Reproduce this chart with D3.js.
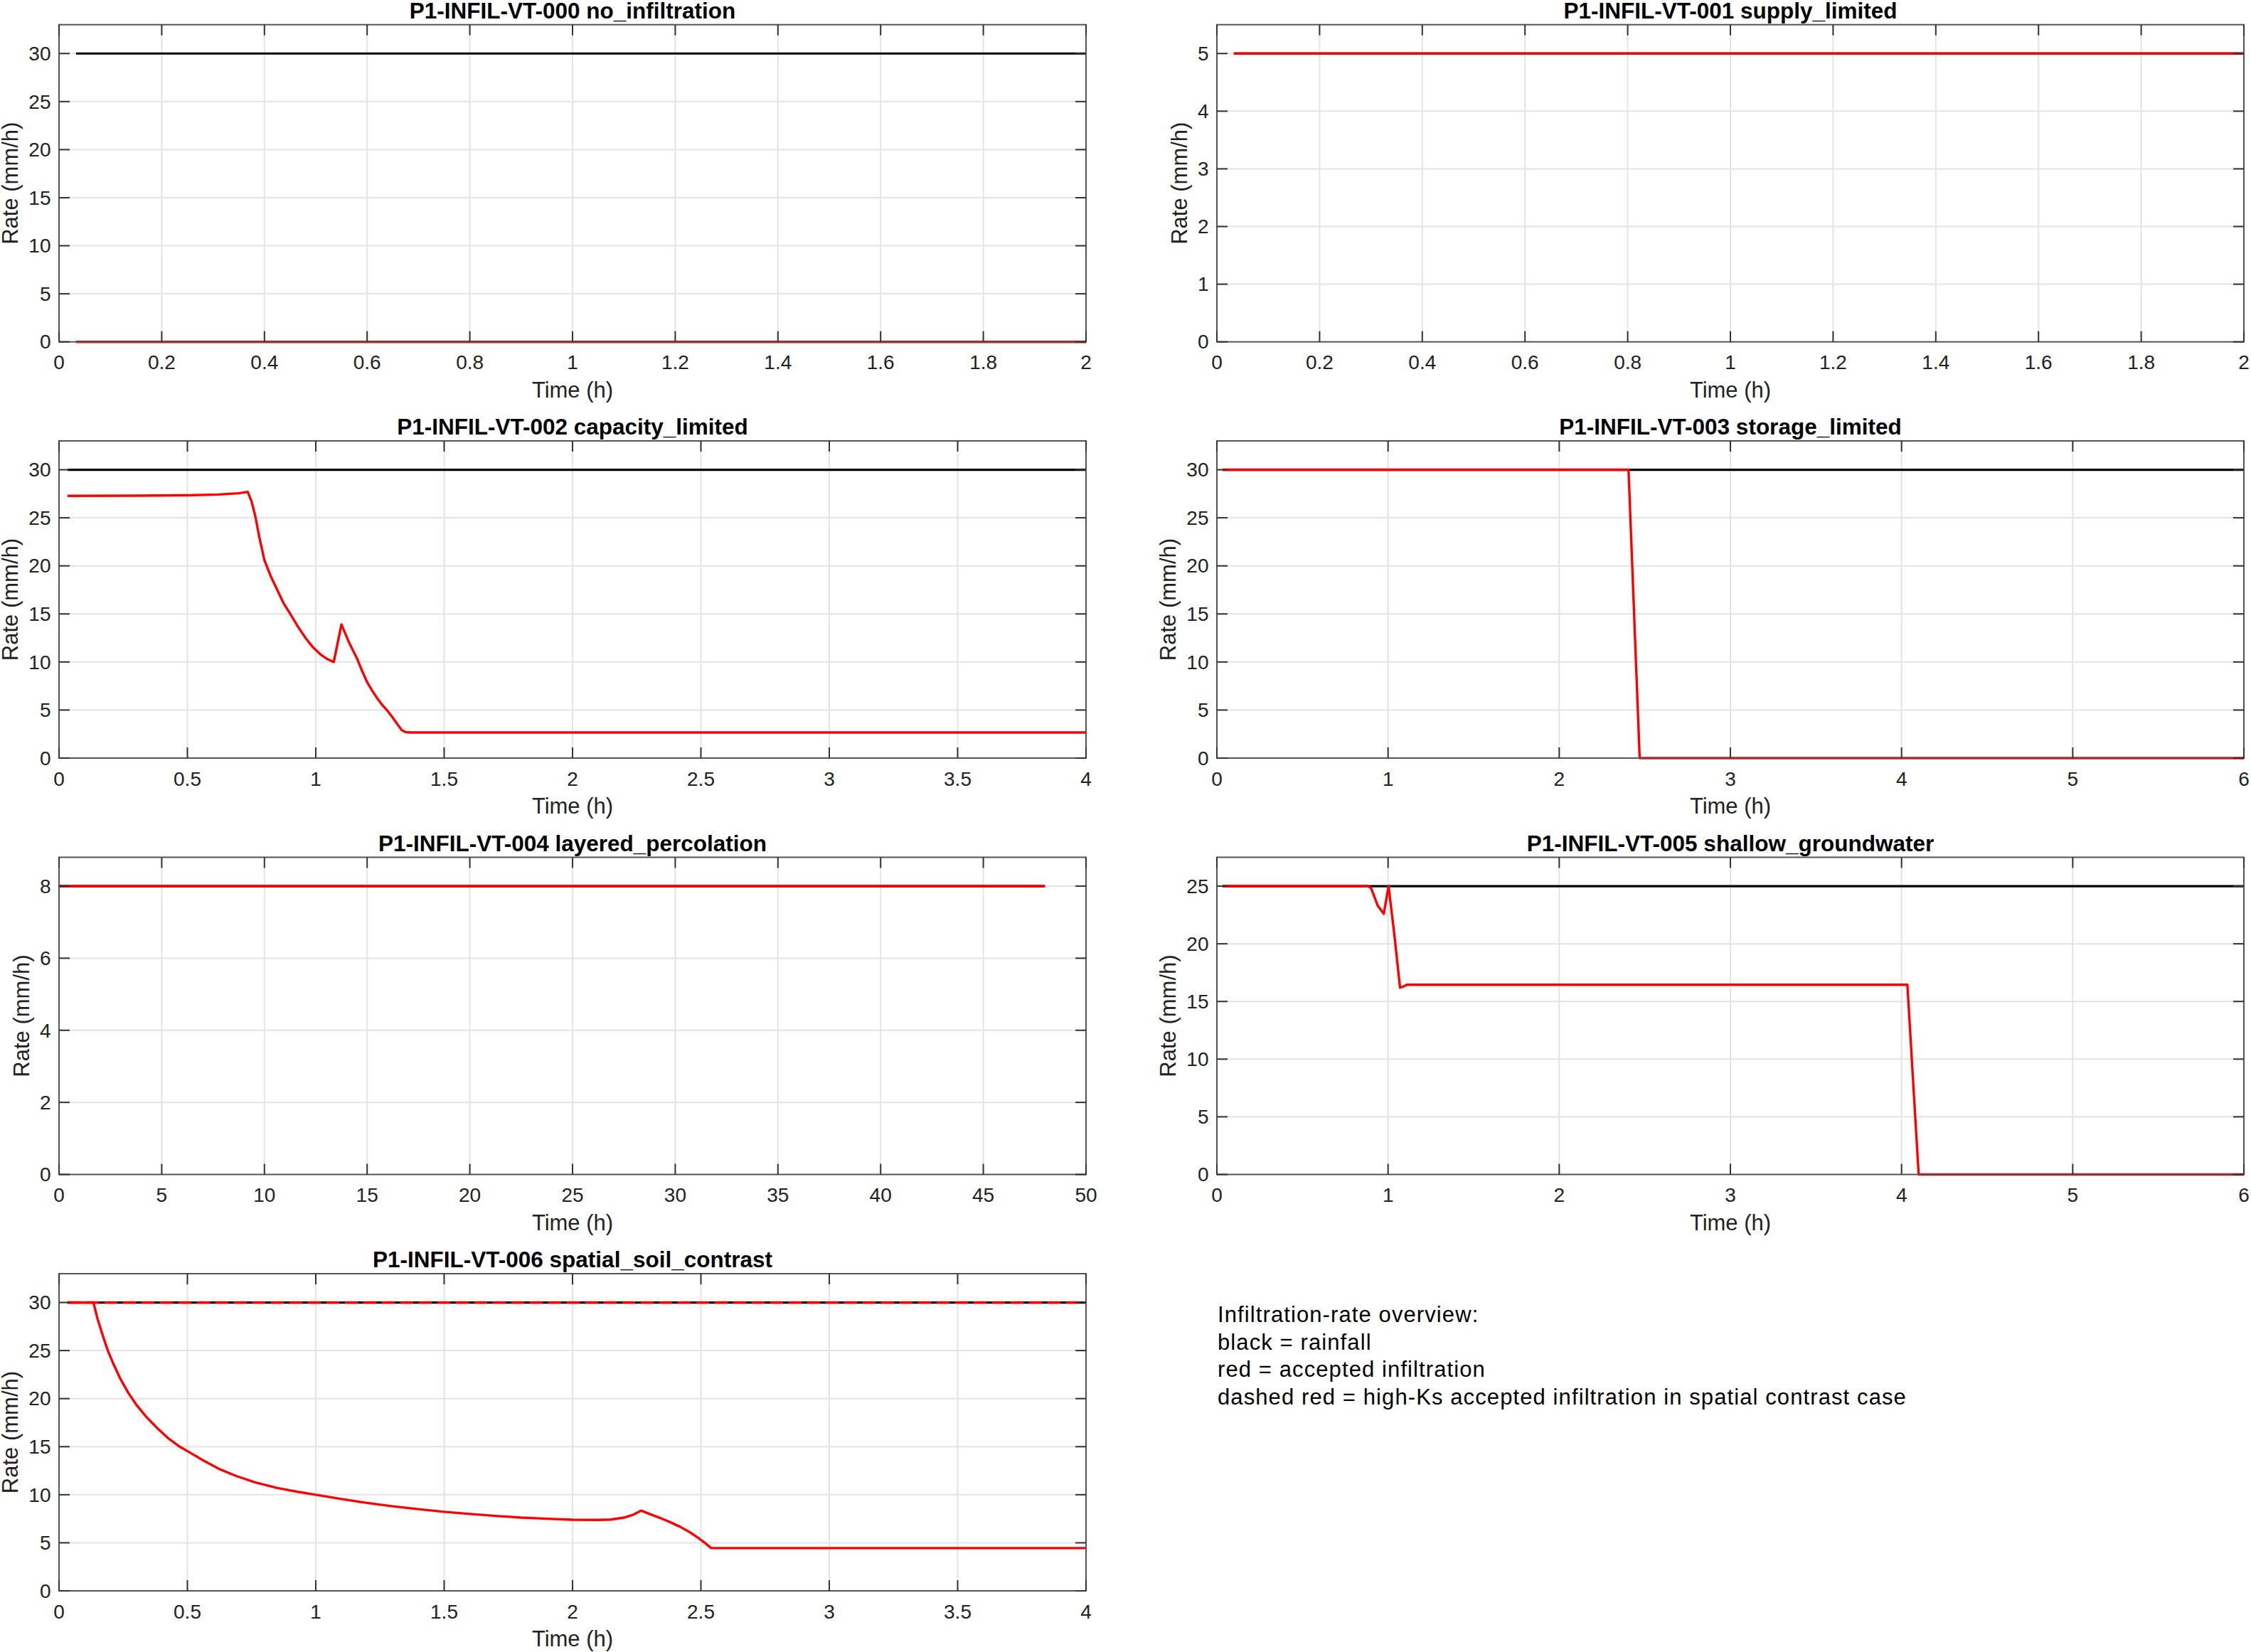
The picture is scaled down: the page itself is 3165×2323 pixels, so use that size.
<!DOCTYPE html>
<html>
<head>
<meta charset="utf-8">
<script src="https://cdn.jsdelivr.net/npm/d3@7.9.0/dist/d3.min.js"></script>
<style>
  html, body { margin: 0; padding: 0; background: #fff; }
  svg { display: block; font-family: "Liberation Sans", Arial, Helvetica, sans-serif; }
</style>
</head>
<body>
<svg id="fig" width="3165" height="2323"></svg>
<script>
// panel titles, in figure order (row by row)
const caseTitles = [
  "P1-INFIL-VT-000 no_infiltration",
  "P1-INFIL-VT-001 supply_limited",
  "P1-INFIL-VT-002 capacity_limited",
  "P1-INFIL-VT-003 storage_limited",
  "P1-INFIL-VT-004 layered_percolation",
  "P1-INFIL-VT-005 shallow_groundwater",
  "P1-INFIL-VT-006 spatial_soil_contrast"
];

// axis limits
const timeMax = [2, 2, 4, 6, 50, 6, 4];
const rateMax = [33, 5.5, 33, 33, 8.8, 27.5, 33];

// tick values
const ticks2h = [0, 0.2, 0.4, 0.6, 0.8, 1, 1.2, 1.4, 1.6, 1.8, 2];
const ticks4h = [0, 0.5, 1, 1.5, 2, 2.5, 3, 3.5, 4];
const ticks6h = [0, 1, 2, 3, 4, 5, 6];
const ticks50h = [0, 5, 10, 15, 20, 25, 30, 35, 40, 45, 50];
const rateTicks30 = [0, 5, 10, 15, 20, 25, 30];
const rateTicks25 = [0, 5, 10, 15, 20, 25];
const rateTicks5 = [0, 1, 2, 3, 4, 5];
const rateTicks8 = [0, 2, 4, 6, 8];

// rainfall (black)
const rainT000 = [0.033, 2],  rainR000 = [30, 30];
const rainT001 = [0.033, 2],  rainR001 = [5, 5];
const rainT002 = [0.033, 4],  rainR002 = [30, 30];
const rainT003 = [0.033, 6],  rainR003 = [30, 30];
const rainT004 = [0, 48],     rainR004 = [8, 8];
const rainT005 = [0.033, 6],  rainR005 = [25, 25];
const rainT006 = [0.033, 4],  rainR006 = [30, 30];

// accepted infiltration (red)
const infT000 = [0.033, 2], infR000 = [0, 0];
const infT001 = [0.033, 2], infR001 = [5, 5];
const infT002 = [0.033, 0.3, 0.5, 0.62, 0.7, 0.735, 0.75, 0.765, 0.78, 0.8, 0.825, 0.85, 0.875, 0.905, 0.93,
                 0.96, 0.99, 1.02, 1.045, 1.07, 1.1, 1.13, 1.16, 1.18, 1.2, 1.22, 1.24, 1.26, 1.28, 1.3, 1.32,
                 1.335, 1.35, 1.37, 4];
const infR002 = [27.28, 27.3, 27.34, 27.42, 27.55, 27.7, 26.7, 25.1, 23.0, 20.6, 18.9, 17.5, 16.1, 14.8, 13.7,
                 12.5, 11.5, 10.75, 10.3, 10.0, 13.9, 12.0, 10.4, 9.1, 7.9, 7.0, 6.2, 5.5, 4.9, 4.2, 3.45,
                 2.9, 2.7, 2.66, 2.66];
const infT003 = [0.033, 2.405, 2.47, 6], infR003 = [30, 30, 0, 0];
const infT004 = [0, 48], infR004 = [8, 8];
const infT005 = [0.033, 0.88, 0.9, 0.94, 0.975, 1.003, 1.036, 1.07, 1.09, 1.11, 4.034, 4.1, 6];
const infR005 = [25, 25, 24.85, 23.3, 22.6, 25, 20.9, 16.2, 16.3, 16.45, 16.45, 0, 0];
const infT006 = [0.033, 0.134, 0.15, 0.17, 0.19, 0.212, 0.24, 0.27, 0.3, 0.34, 0.38, 0.424, 0.47, 0.509, 0.56,
                 0.622, 0.69, 0.763, 0.85, 0.93, 1.0, 1.1, 1.2, 1.3, 1.4, 1.5, 1.6, 1.7, 1.8, 1.9, 2.0, 2.1,
                 2.15, 2.2, 2.235, 2.267, 2.3, 2.34, 2.38, 2.42, 2.46, 2.49, 2.515, 2.54, 4];
const infR006 = [30, 30, 28.3, 26.6, 25.0, 23.6, 22.0, 20.6, 19.4, 18.1, 17.0, 15.9, 15.0, 14.4, 13.6,
                 12.7, 11.95, 11.3, 10.7, 10.3, 10.0, 9.55, 9.15, 8.8, 8.5, 8.22, 8.0, 7.8, 7.62, 7.5, 7.4, 7.38,
                 7.42, 7.62, 7.9, 8.35, 8.0, 7.6, 7.15, 6.65, 6.05, 5.5, 5.0, 4.45, 4.45];

// high-Ks accepted infiltration (dashed red, spatial contrast case only)
const highKsT006 = [0.033, 4], highKsR006 = [30, 30];

const noteLines = [
  "Infiltration-rate overview:",
  "black = rainfall",
  "red = accepted infiltration",
  "dashed red = high-Ks accepted infiltration in spatial contrast case"
];

const zip = (t, r) => t.map((v, i) => ({ t: v, r: r[i] }));

const panels = [
  { xt: ticks2h, yt: rateTicks30, rain: zip(rainT000, rainR000), inf: zip(infT000, infR000) },
  { xt: ticks2h, yt: rateTicks5, rain: zip(rainT001, rainR001), inf: zip(infT001, infR001) },
  { xt: ticks4h, yt: rateTicks30, rain: zip(rainT002, rainR002), inf: zip(infT002, infR002) },
  { xt: ticks6h, yt: rateTicks30, rain: zip(rainT003, rainR003), inf: zip(infT003, infR003) },
  { xt: ticks50h, yt: rateTicks8, rain: zip(rainT004, rainR004), inf: zip(infT004, infR004) },
  { xt: ticks6h, yt: rateTicks25, rain: zip(rainT005, rainR005), inf: zip(infT005, infR005) },
  { xt: ticks4h, yt: rateTicks30, rain: zip(rainT006, rainR006), inf: zip(infT006, infR006),
    dashed: zip(highKsT006, highKsR006) }
];

// layout
const colLeft = [83, 1711];
const rowTop = [34.7, 620, 1205.5, 1791];
const pw = 1444, ph = 446;
const tickLen = 15;

const svg = d3.select("#fig");
svg.append("rect").attr("width", 3165).attr("height", 2323).attr("fill", "#fff");

panels.forEach((p, i) => {
  const left = colLeft[i % 2], top = rowTop[Math.floor(i / 2)];
  const x = d3.scaleLinear().domain([0, timeMax[i]]).range([0, pw]);
  const y = d3.scaleLinear().domain([0, rateMax[i]]).range([ph, 0]);
  const g = svg.append("g").attr("transform", `translate(${left},${top})`);

  // grid
  g.selectAll(".gx").data(p.xt.filter(v => v > 0 && v < timeMax[i])).enter().append("line")
    .attr("x1", d => x(d)).attr("x2", d => x(d)).attr("y1", 0).attr("y2", ph)
    .attr("stroke", "#e4e4e4").attr("stroke-width", 2);
  g.selectAll(".gy").data(p.yt.filter(v => v > 0 && v < rateMax[i])).enter().append("line")
    .attr("y1", d => y(d)).attr("y2", d => y(d)).attr("x1", 0).attr("x2", pw)
    .attr("stroke", "#e4e4e4").attr("stroke-width", 2);

  const line = d3.line().x(d => x(d.t)).y(d => y(d.r));
  g.append("path").attr("d", line(p.rain)).attr("fill", "none")
    .attr("stroke", "#000").attr("stroke-width", 3.2);
  g.append("path").attr("d", line(p.inf)).attr("fill", "none")
    .attr("stroke", "#ff0000").attr("stroke-width", 3.4).attr("stroke-linejoin", "round");
  if (p.dashed) {
    g.append("path").attr("d", line(p.dashed)).attr("fill", "none")
      .attr("stroke", "#ff0000").attr("stroke-width", 3.4).attr("stroke-dasharray", "18,8");
  }

  // box
  g.append("rect").attr("width", pw).attr("height", ph).attr("fill", "none")
    .attr("stroke", "#555").attr("stroke-width", 2);

  // ticks (inward, all four sides)
  const tk = g.append("g").attr("stroke", "#333").attr("stroke-width", 2);
  p.xt.forEach(v => {
    tk.append("line").attr("x1", x(v)).attr("x2", x(v)).attr("y1", ph).attr("y2", ph - tickLen);
    tk.append("line").attr("x1", x(v)).attr("x2", x(v)).attr("y1", 0).attr("y2", tickLen);
  });
  p.yt.forEach(v => {
    tk.append("line").attr("y1", y(v)).attr("y2", y(v)).attr("x1", 0).attr("x2", tickLen);
    tk.append("line").attr("y1", y(v)).attr("y2", y(v)).attr("x1", pw).attr("x2", pw - tickLen);
  });

  // tick labels
  g.selectAll(".xl").data(p.xt).enter().append("text")
    .attr("x", d => x(d)).attr("y", ph + 38.5).attr("text-anchor", "middle")
    .attr("font-size", 28).attr("fill", "#222").text(d => d3.format("~g")(d));
  const yl = g.selectAll(".yl").data(p.yt).enter().append("text")
    .attr("x", -11.5).attr("y", d => y(d)).attr("dy", "0.35em").attr("text-anchor", "end")
    .attr("font-size", 28).attr("fill", "#222").text(d => d3.format("~g")(d));

  let maxW = 0;
  yl.each(function () { maxW = Math.max(maxW, this.getComputedTextLength()); });

  // axis labels and title
  const lx = -11.5 - maxW - 15;
  g.append("text").attr("transform", `translate(${lx},${ph / 2}) rotate(-90)`)
    .attr("text-anchor", "middle").attr("font-size", 31).attr("fill", "#222").text("Rate (mm/h)");
  g.append("text").attr("x", pw / 2).attr("y", ph + 78).attr("text-anchor", "middle")
    .attr("font-size", 31).attr("fill", "#222").text("Time (h)");
  g.append("text").attr("x", pw / 2).attr("y", -9).attr("text-anchor", "middle")
    .attr("font-size", 31.5).attr("font-weight", "bold").attr("fill", "#000").text(caseTitles[i]);
});

// overview note
svg.append("g").selectAll("text").data(noteLines).enter().append("text")
  .attr("x", 1712).attr("y", (d, i) => 1859 + i * 38.7)
  .attr("font-size", 31).attr("letter-spacing", 1.1).attr("fill", "#000").text(d => d);
</script>
</body>
</html>
